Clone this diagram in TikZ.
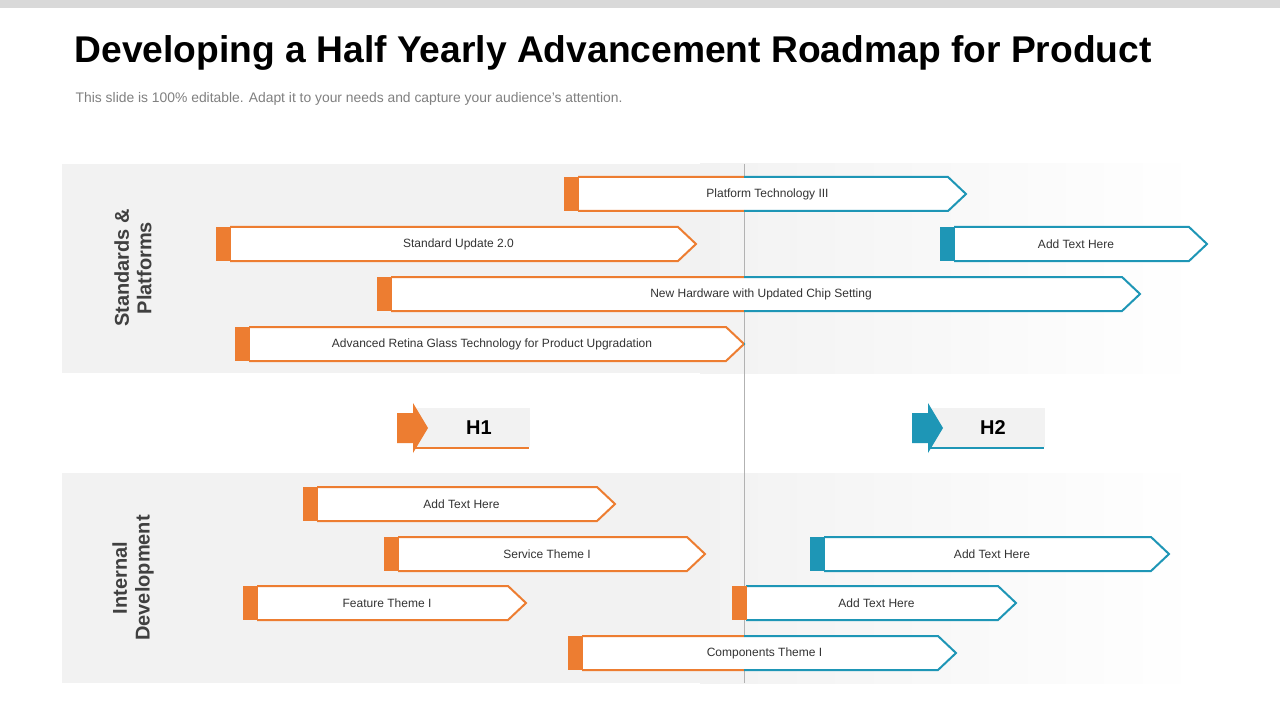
\documentclass[tikz,border=0pt]{standalone}
\usepackage{fontspec}
\setmainfont{Liberation Sans}
\definecolor{org}{HTML}{ED7D31}
\definecolor{blu}{HTML}{1E96B6}
\definecolor{band}{HTML}{F2F2F2}
\newcommand{\rbar}[5]{%
  \fill[white] (#1+14,#3-17) -- (#2-18,#3-17) -- (#2,#3) -- (#2-18,#3+17) -- (#1+14,#3+17) -- cycle;
  \begin{scope}\clip (0,0) rectangle (744,720);
    \draw[org,line width=1.5pt,line join=miter] (#1+14,#3-17) -- (#2-18,#3-17) -- (#2,#3) -- (#2-18,#3+17) -- (#1+14,#3+17);
  \end{scope}
  \begin{scope}\clip (744,0) rectangle (1280,720);
    \draw[blu,line width=1.5pt,line join=miter] (#1+14,#3-17) -- (#2-18,#3-17) -- (#2,#3) -- (#2-18,#3+17) -- (#1+14,#3+17);
  \end{scope}
  \fill[#5] (#1,#3-17) rectangle (#1+15,#3+17);
  \node[font=\fontsize{9}{10}\selectfont,text=black!80] at ({(#1+14+#2-9)/2},#3) {#4};
}
\begin{document}
\begin{tikzpicture}[x=0.75pt,y=-0.75pt]
\useasboundingbox (0,0) rectangle (1280,720);
\fill[white] (0,0) rectangle (1280,720);
\fill[black!15] (0,0) rectangle (1280,8);
\node[anchor=west,font=\bfseries\fontsize{27.9}{32}\selectfont] (title) at (70,53) {Developing a Half Yearly Advancement Roadmap for Product};
\node[anchor=west,font=\fontsize{10.4}{12}\selectfont,text=black!50] (sub) at (71,99) {This slide is 100\% editable. Adapt it to your needs and capture your audience's attention.};
\fill[band] (62,164) rectangle (700,373);
\shade[left color=band,right color=white] (700,164) rectangle (1200,373);
\fill[band] (62,473) rectangle (700,683);
\shade[left color=band,right color=white] (700,473) rectangle (1200,683);
\draw[black!30,line width=0.6pt] (744,164) -- (744,683);
\node[rotate=90,align=center,font=\bfseries\fontsize{15}{17}\selectfont,text=black!75] (l1) at (133,268) {Standards \&\\Platforms};
\node[rotate=90,align=center,font=\bfseries\fontsize{15}{17}\selectfont,text=black!75] (l2) at (133,578) {Internal\\Development};
\rbar{564}{966}{194}{Platform Technology III}{org}
\rbar{216}{696}{244}{Standard Update 2.0}{org}
\rbar{940}{1207}{244}{Add Text Here}{blu}
\rbar{377}{1140}{294}{New Hardware with Updated Chip Setting}{org}
\rbar{235}{744}{344}{Advanced Retina Glass Technology for Product Upgradation}{org}
\rbar{303}{615}{504}{Add Text Here}{org}
\rbar{384}{705}{554}{Service Theme I}{org}
\rbar{810}{1169}{554}{Add Text Here}{blu}
\rbar{243}{526}{603}{Feature Theme I}{org}
\rbar{732}{1016}{603}{Add Text Here}{org}
\rbar{568}{956}{653}{Components Theme I}{org}
% H markers
\fill[band] (413,408) rectangle (530,447);
\draw[org,line width=2pt] (413,448) -- (529,448);
\fill[org] (397,413) -- (413,413) -- (413,403) -- (428,428) -- (413,453) -- (413,443) -- (397,443) -- cycle;
\node[font=\bfseries\fontsize{15}{17}\selectfont] (h1) at (479,428) {H1};
\fill[band] (928,408) rectangle (1045,447);
\draw[blu,line width=2pt] (928,448) -- (1044,448);
\fill[blu] (912,413) -- (928,413) -- (928,403) -- (943,428) -- (928,453) -- (928,443) -- (912,443) -- cycle;
\node[font=\bfseries\fontsize{15}{17}\selectfont] (h2) at (993,428) {H2};
\end{tikzpicture}
\end{document}
